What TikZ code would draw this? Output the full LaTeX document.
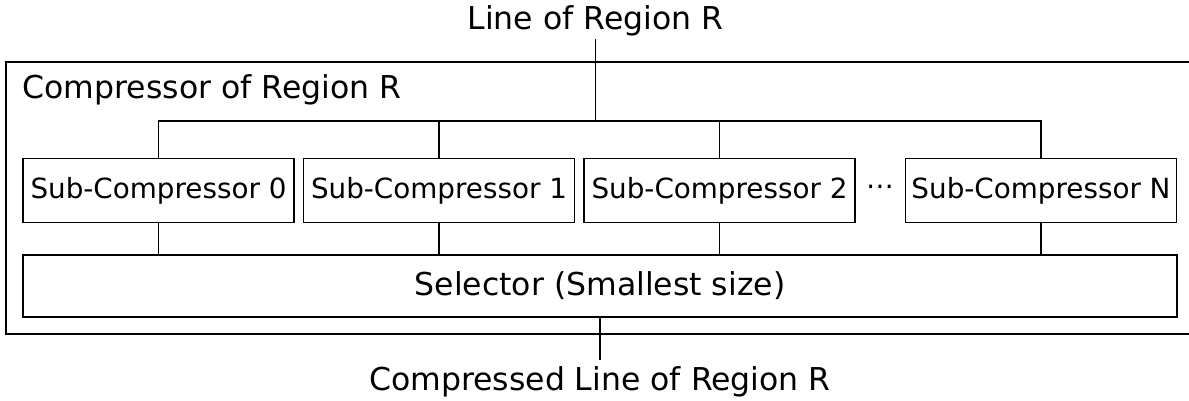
\documentclass[tikz,border=0pt]{standalone}
\usepackage{fontspec}
\setmainfont{DejaVu Sans}
\begin{document}
\begin{tikzpicture}[x=1pt,y=1pt,
  line width=1.4pt,
  bigtext/.style={font=\fontsize{31.5}{36}\selectfont},
  subtext/.style={font=\fontsize{27.8}{32}\selectfont},
  subbox/.style={draw, subtext, minimum width=271pt, minimum height=64pt, inner sep=0pt},
  selbox/.style={draw, bigtext, minimum width=1154pt, minimum height=62pt, inner sep=0pt},
  wire/.style={line width=1.4pt}]
\useasboundingbox (0,0) rectangle (1189,-400);
% container (right side runs past the picture edge)
\draw (1195,-62) -- (6,-62) -- (6,-334) -- (1195,-334);
\node[bigtext, anchor=base west, inner sep=0pt] (title) at (22,-98) {Compressor of Region R};
% labels
\node[bigtext, anchor=south, inner xsep=0pt, inner ysep=2pt] (inp) at (595.5,-39) {Line of Region R};
\node[bigtext, anchor=north, inner xsep=0pt, inner ysep=6pt] (outp) at (600,-360) {Compressed Line of Region R};
% sub-compressors
\node[subbox] (sub0) at (158.5,-190.5) {Sub-Compressor 0};
\node[subbox] (sub1) at (439,-190.5) {Sub-Compressor 1};
\node[subbox] (sub2) at (719.5,-190.5) {Sub-Compressor 2};
\node[subbox] (subN) at (1041,-190.5) {Sub-Compressor N};
\node[subtext, inner sep=0pt] (dots) at (880,-190.5) {⋯};
% selector
\node[selbox] (sel) at (600,-286) {Selector (Smallest size)};
% bus
\coordinate (bus) at (595.5,-121);
\draw[wire] (inp.south) -- (bus);
\draw[wire] (sub0.north) |- (bus);
\draw[wire] (sub1.north) |- (bus);
\draw[wire] (sub2.north) |- (bus);
\draw[wire] (subN.north) |- (bus);
% to selector
\draw[wire] (sub0.south) -- (sub0.south |- sel.north);
\draw[wire] (sub1.south) -- (sub1.south |- sel.north);
\draw[wire] (sub2.south) -- (sub2.south |- sel.north);
\draw[wire] (subN.south) -- (subN.south |- sel.north);
\draw[wire] (sel.south) -- (outp.north);
\end{tikzpicture}
\end{document}
